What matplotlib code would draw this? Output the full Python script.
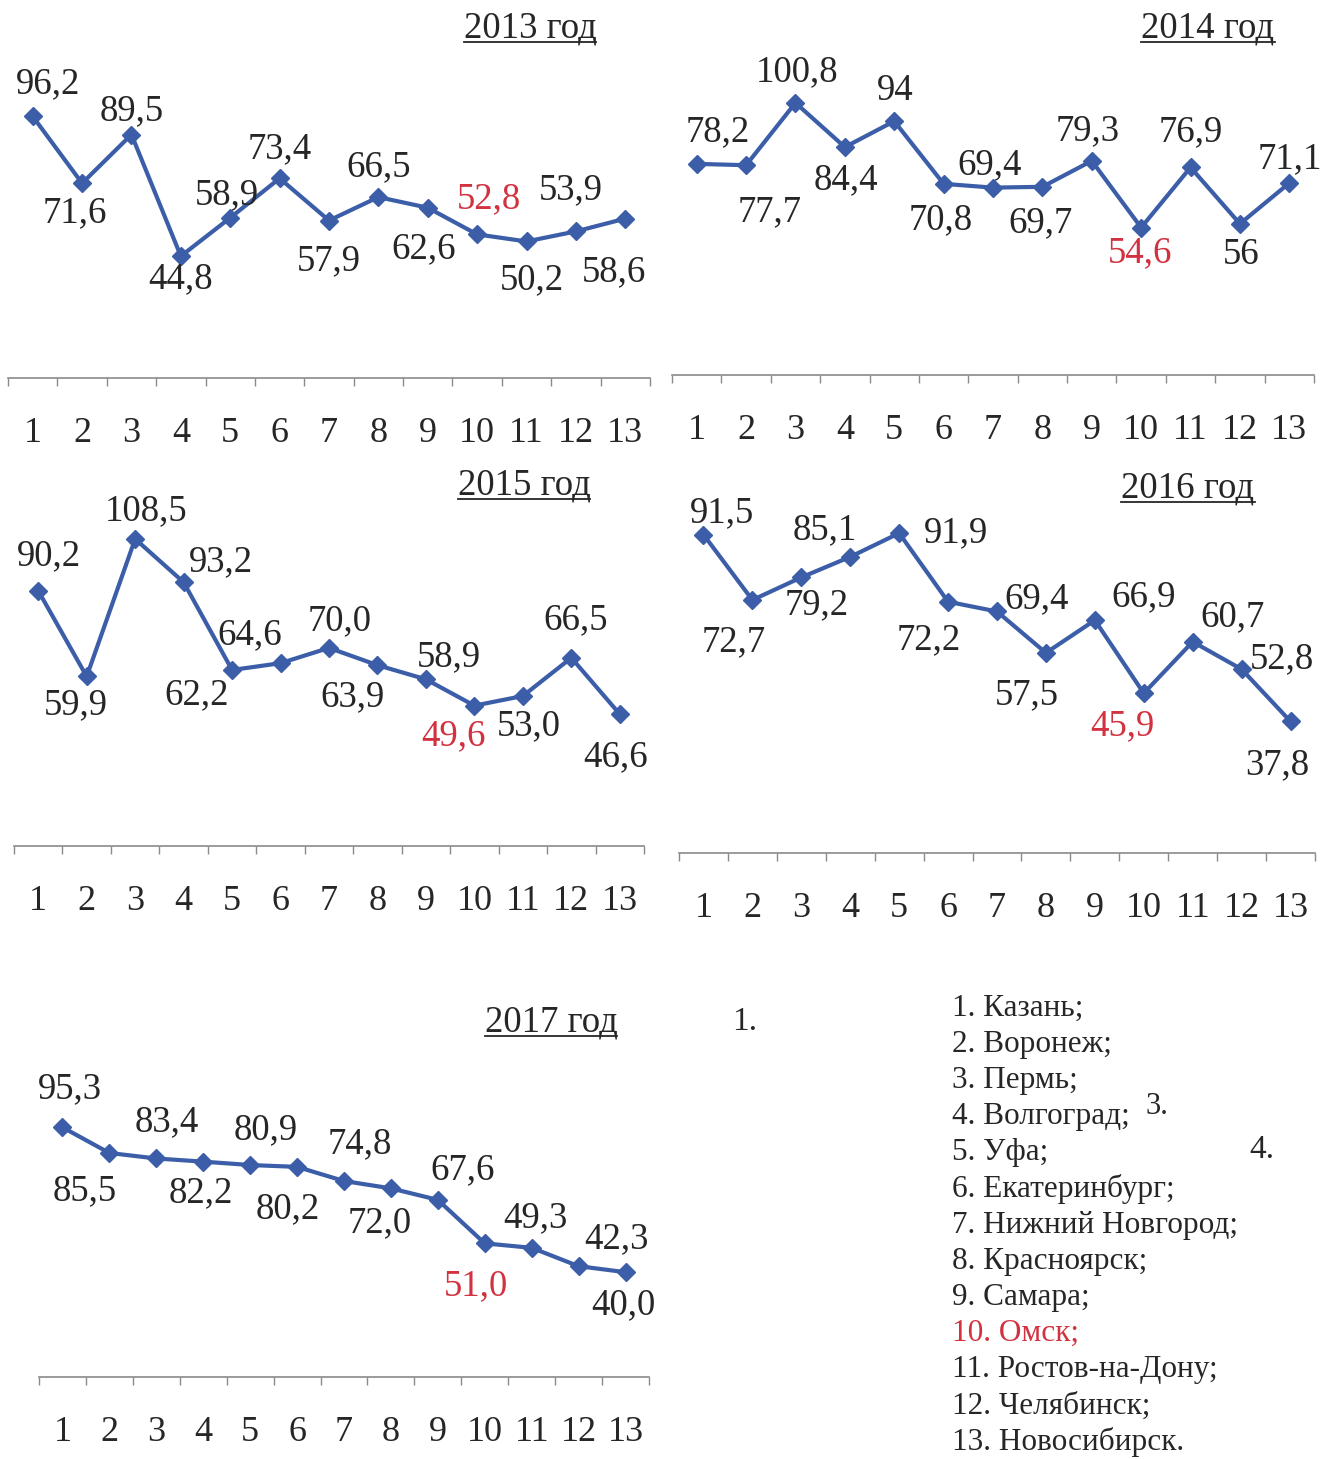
import matplotlib
matplotlib.use("Agg")
import matplotlib.pyplot as plt
from matplotlib.lines import Line2D

plt.rcParams["font.family"] = ["Liberation Serif", "DejaVu Serif"]

# Данные
cities = ["Казань", "Воронеж", "Пермь", "Волгоград", "Уфа", "Екатеринбург",
          "Нижний Новгород", "Красноярск", "Самара", "Омск",
          "Ростов-на-Дону", "Челябинск", "Новосибирск"]
nums = list(range(1, 14))
years = ["2013 год", "2014 год", "2015 год", "2016 год", "2017 год"]

v2013 = [96.2, 71.6, 89.5, 44.8, 58.9, 73.4, 57.9, 66.5, 62.6, 52.8, 50.2, 53.9, 58.6]
v2014 = [78.2, 77.7, 100.8, 84.4, 94, 70.8, 69.4, 69.7, 79.3, 54.6, 76.9, 56, 71.1]
v2015 = [90.2, 59.9, 108.5, 93.2, 62.2, 64.6, 70.0, 63.9, 58.9, 49.6, 53.0, 66.5, 46.6]
v2016 = [91.5, 72.7, 79.2, 85.1, 91.9, 72.2, 69.4, 57.5, 66.9, 45.9, 60.7, 52.8, 37.8]
v2017 = [95.3, 85.5, 83.4, 82.2, 80.9, 80.2, 74.8, 72.0, 67.6, 51.0, 49.3, 42.3, 40.0]

W, H = 1323, 1459
fig = plt.figure(figsize=(W / 100, H / 100), dpi=100)

blue = "#3c5ea8"
red = "#d23240"
txt = "#262626"

# положение подписей (смещение в пикселях)
off2013 = [(15, 32), (-7, -30), (0, 24), (0, -23), (-3, 23), (0, 29), (0, -40),
           (0, 30), (-4, -41), (12, 35), (5, -38), (-5, 41), (-11, -53)]
off2014 = [(21, 32), (24, -47), (2, 31), (1, -33), (1, 30), (-3, -36), (-3, 23),
           (-2, -36), (-4, 30), (-1, -25), (0, 35), (1, -31), (1, 24)]
off2015 = [(11, 35), (-11, -28), (11, 28), (37, 20), (-35, -25), (-31, 28), (11, 27),
           (-25, -32), (23, 22), (-21, -30), (6, -30), (4, 38), (-4, -43)]
off2016 = [(19, 22), (-19, -42), (15, -28), (-25, 27), (57, 0), (-19, -38), (40, 13),
           (-19, -42), (49, 23), (-21, -33), (40, 25), (40, 10), (-13, -43)]
off2017 = [(7, 38), (-25, -38), (11, 37), (-2, -31), (16, 35), (-9, -42), (16, 37),
           (-11, -35), (25, 30), (-9, -43), (4, 30), (38, 27), (-2, -33)]

# (x слева, x справа, y нуля, пикселей на единицу), центр заголовка
panels = [
    (v2013, off2013, (8, 650, 378, 2.72), (530, 28)),
    (v2014, off2014, (672, 1314, 375, 2.70), (1208, 28)),
    (v2015, off2015, (14, 644, 846, 2.83), (524, 485)),
    (v2016, off2016, (679, 1315, 853, 3.48), (1188, 488)),
    (v2017, off2017, (39, 649, 1377, 2.62), (551, 1022)),
]

titles = []
for (vals, offs, box, tpos), year in zip(panels, years):
    x0, x1, y0, sc = box
    ytop = y0 - 120 * sc
    ax = fig.add_axes([x0 / W, 1 - y0 / H, (x1 - x0) / W, (y0 - ytop) / H])
    ax.patch.set_alpha(0)
    ax.set_xlim(0.5, 13.5)
    ax.set_ylim(0, 120)
    for s in ["top", "right", "left"]:
        ax.spines[s].set_visible(False)
    ax.spines["bottom"].set_color("#8a8a8a")
    ax.spines["bottom"].set_linewidth(1.2)
    ax.set_yticks([])
    ax.set_xticks([i + 0.5 for i in range(0, 14)])
    ax.set_xticklabels([])
    ax.tick_params(axis="x", which="major", length=6, width=1, color="#8a8a8a")
    ax.set_xticks(nums, minor=True)
    ax.set_xticklabels([str(n) for n in nums], minor=True)
    ax.tick_params(axis="x", which="minor", length=0, pad=28, labelsize=26,
                   labelcolor=txt)

    ax.plot(nums, vals, color=blue, lw=3, marker="D", markersize=9,
            clip_on=False, zorder=3)
    for i, (v, o) in enumerate(zip(vals, offs)):
        lab = (f"{v:g}" if year == "2014 год" else f"{v:.1f}").replace(".", ",")
        ax.annotate(lab, (nums[i], v), xytext=o, textcoords="offset pixels",
                    ha="center", va="center", fontsize=26.5,
                    color=red if i == 9 else txt, annotation_clip=False)

    t = fig.text(tpos[0] / W, 1 - tpos[1] / H, year, ha="center", va="center",
                 fontsize=26.5, color=txt)
    titles.append(t)

# прочие надписи
fig.text(745 / W, 1 - 1022 / H, "1.", ha="center", va="center", fontsize=24, color=txt)
fig.text(1157 / W, 1 - 1106 / H, "3.", ha="center", va="center", fontsize=22, color=txt)
fig.text(1262 / W, 1 - 1150 / H, "4.", ha="center", va="center", fontsize=24, color=txt)

# список городов
for i, c in enumerate(cities):
    end = "." if i == len(cities) - 1 else ";"
    y = 1008 + i * 36.2
    fig.text(952 / W, 1 - y / H, f"{i + 1}. {c}{end}", ha="left", va="center",
             fontsize=22.5, color=red if i == 9 else txt)

# подчеркивание заголовков
fig.canvas.draw()
r = fig.canvas.get_renderer()
for t in titles:
    bb = t.get_window_extent(r)
    yy = bb.y0 + 3
    fig.add_artist(Line2D([bb.x0 / W, bb.x1 / W], [yy / H, yy / H],
                          transform=fig.transFigure, color=txt, lw=1.3))

fig.savefig("out.png", dpi=100, facecolor="white")
